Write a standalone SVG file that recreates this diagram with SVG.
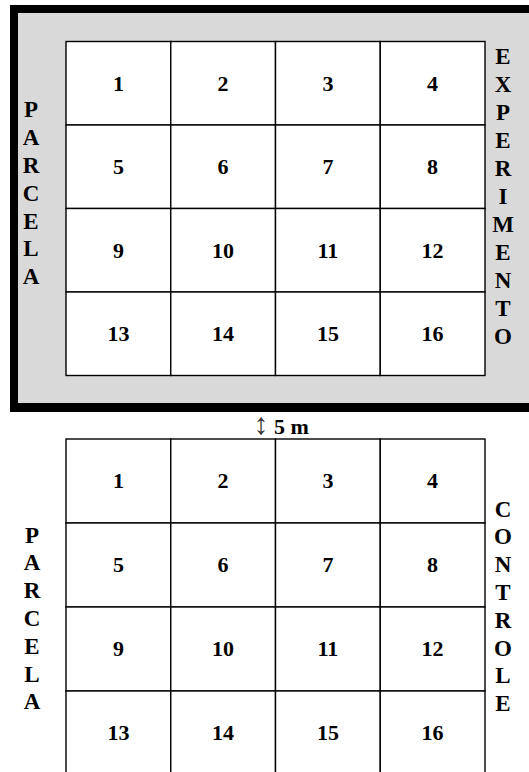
<svg xmlns="http://www.w3.org/2000/svg" width="529" height="772" viewBox="0 0 529 772">
<style>
.cell{fill:#fff;stroke:#000;stroke-width:1.4}
.num{font-family:"Liberation Serif","Times New Roman",serif;font-weight:bold;font-size:22px;text-anchor:middle;fill:#000}
.lbl{font-family:"Liberation Serif","Times New Roman",serif;font-weight:bold;font-size:23px;text-anchor:middle;fill:#000}
</style>
<rect x="10" y="5" width="530" height="407" fill="#000"/>
<rect x="18" y="13" width="520" height="390" fill="#d9d9d9"/>
<g id="exp">
<g id="e1"><rect class="cell" x="66" y="41.5" width="104.75" height="83.5"/><text class="num" x="118.4" y="90.5">1</text></g>
<g id="e2"><rect class="cell" x="170.75" y="41.5" width="104.75" height="83.5"/><text class="num" x="223.1" y="90.5">2</text></g>
<g id="e3"><rect class="cell" x="275.5" y="41.5" width="104.75" height="83.5"/><text class="num" x="327.9" y="90.5">3</text></g>
<g id="e4"><rect class="cell" x="380.25" y="41.5" width="104.75" height="83.5"/><text class="num" x="432.6" y="90.5">4</text></g>
<g id="e5"><rect class="cell" x="66" y="125" width="104.75" height="83.5"/><text class="num" x="118.4" y="174">5</text></g>
<g id="e6"><rect class="cell" x="170.75" y="125" width="104.75" height="83.5"/><text class="num" x="223.1" y="174">6</text></g>
<g id="e7"><rect class="cell" x="275.5" y="125" width="104.75" height="83.5"/><text class="num" x="327.9" y="174">7</text></g>
<g id="e8"><rect class="cell" x="380.25" y="125" width="104.75" height="83.5"/><text class="num" x="432.6" y="174">8</text></g>
<g id="e9"><rect class="cell" x="66" y="208.5" width="104.75" height="83.5"/><text class="num" x="118.4" y="257.5">9</text></g>
<g id="e10"><rect class="cell" x="170.75" y="208.5" width="104.75" height="83.5"/><text class="num" x="223.1" y="257.5">10</text></g>
<g id="e11"><rect class="cell" x="275.5" y="208.5" width="104.75" height="83.5"/><text class="num" x="327.9" y="257.5">11</text></g>
<g id="e12"><rect class="cell" x="380.25" y="208.5" width="104.75" height="83.5"/><text class="num" x="432.6" y="257.5">12</text></g>
<g id="e13"><rect class="cell" x="66" y="292" width="104.75" height="83.5"/><text class="num" x="118.4" y="341">13</text></g>
<g id="e14"><rect class="cell" x="170.75" y="292" width="104.75" height="83.5"/><text class="num" x="223.1" y="341">14</text></g>
<g id="e15"><rect class="cell" x="275.5" y="292" width="104.75" height="83.5"/><text class="num" x="327.9" y="341">15</text></g>
<g id="e16"><rect class="cell" x="380.25" y="292" width="104.75" height="83.5"/><text class="num" x="432.6" y="341">16</text></g>
</g>
<g id="label-parcela-exp"><text class="lbl"><tspan x="31" y="117.3">P</tspan><tspan x="31" dy="27.8">A</tspan><tspan x="31" dy="27.8">R</tspan><tspan x="31" dy="27.8">C</tspan><tspan x="31" dy="27.8">E</tspan><tspan x="31" dy="27.8">L</tspan><tspan x="31" dy="27.8">A</tspan></text></g>
<g id="label-experimento"><text class="lbl"><tspan x="503" y="64">E</tspan><tspan x="503" dy="28">X</tspan><tspan x="503" dy="28">P</tspan><tspan x="503" dy="28">E</tspan><tspan x="503" dy="28">R</tspan><tspan x="503" dy="28">I</tspan><tspan x="503" dy="28">M</tspan><tspan x="503" dy="28">E</tspan><tspan x="503" dy="28">N</tspan><tspan x="503" dy="28">T</tspan><tspan x="503" dy="28">O</tspan></text></g>
<g id="distance"><text y="433.5" font-family="Liberation Serif, serif" fill="#000"><tspan x="261" text-anchor="middle" fill="#333" font-weight="normal" font-size="30">↕</tspan><tspan font-weight="bold" font-size="22" x="274">5 m</tspan></text></g>
<g id="ctl">
<g id="c1"><rect class="cell" x="66" y="439" width="104.75" height="84"/><text class="num" x="118.4" y="488">1</text></g>
<g id="c2"><rect class="cell" x="170.75" y="439" width="104.75" height="84"/><text class="num" x="223.1" y="488">2</text></g>
<g id="c3"><rect class="cell" x="275.5" y="439" width="104.75" height="84"/><text class="num" x="327.9" y="488">3</text></g>
<g id="c4"><rect class="cell" x="380.25" y="439" width="104.75" height="84"/><text class="num" x="432.6" y="488">4</text></g>
<g id="c5"><rect class="cell" x="66" y="523" width="104.75" height="84"/><text class="num" x="118.4" y="572">5</text></g>
<g id="c6"><rect class="cell" x="170.75" y="523" width="104.75" height="84"/><text class="num" x="223.1" y="572">6</text></g>
<g id="c7"><rect class="cell" x="275.5" y="523" width="104.75" height="84"/><text class="num" x="327.9" y="572">7</text></g>
<g id="c8"><rect class="cell" x="380.25" y="523" width="104.75" height="84"/><text class="num" x="432.6" y="572">8</text></g>
<g id="c9"><rect class="cell" x="66" y="607" width="104.75" height="84"/><text class="num" x="118.4" y="656">9</text></g>
<g id="c10"><rect class="cell" x="170.75" y="607" width="104.75" height="84"/><text class="num" x="223.1" y="656">10</text></g>
<g id="c11"><rect class="cell" x="275.5" y="607" width="104.75" height="84"/><text class="num" x="327.9" y="656">11</text></g>
<g id="c12"><rect class="cell" x="380.25" y="607" width="104.75" height="84"/><text class="num" x="432.6" y="656">12</text></g>
<g id="c13"><rect class="cell" x="66" y="691" width="104.75" height="84"/><text class="num" x="118.4" y="740">13</text></g>
<g id="c14"><rect class="cell" x="170.75" y="691" width="104.75" height="84"/><text class="num" x="223.1" y="740">14</text></g>
<g id="c15"><rect class="cell" x="275.5" y="691" width="104.75" height="84"/><text class="num" x="327.9" y="740">15</text></g>
<g id="c16"><rect class="cell" x="380.25" y="691" width="104.75" height="84"/><text class="num" x="432.6" y="740">16</text></g>
</g>
<g id="label-parcela-ctl"><text class="lbl"><tspan x="32" y="542.5">P</tspan><tspan x="32" dy="27.8">A</tspan><tspan x="32" dy="27.8">R</tspan><tspan x="32" dy="27.8">C</tspan><tspan x="32" dy="27.8">E</tspan><tspan x="32" dy="27.8">L</tspan><tspan x="32" dy="27.8">A</tspan></text></g>
<g id="label-controle"><text class="lbl"><tspan x="503" y="516.5">C</tspan><tspan x="503" dy="27.8">O</tspan><tspan x="503" dy="27.8">N</tspan><tspan x="503" dy="27.8">T</tspan><tspan x="503" dy="27.8">R</tspan><tspan x="503" dy="27.8">O</tspan><tspan x="503" dy="27.8">L</tspan><tspan x="503" dy="27.8">E</tspan></text></g>
<g id="connectors"></g>
</svg>
